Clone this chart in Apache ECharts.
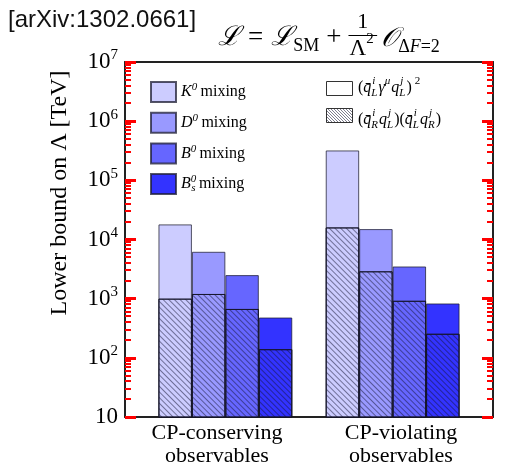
<!DOCTYPE html>
<html>
<head>
<meta charset="utf-8">
<script src="https://cdn.jsdelivr.net/npm/echarts@6/dist/echarts.min.js"></script>
<style>
  html, body { margin: 0; padding: 0; background: #fff; }
  #chart { width: 517px; height: 474px; }
</style>
</head>
<body>
<div id="chart"></div>
<script>
// Observable groups shown along the x axis
const groups = ['CP-conserving\nobservables', 'CP-violating\nobservables'];
// Neutral-meson systems, one bar each inside a group
const mesons = ['K0 mixing', 'D0 mixing', 'B0 mixing', 'Bs mixing'];
const mesonColors = ['#ccccff', '#9999ff', '#6666ff', '#3333ff'];

// Lower bound on Λ [TeV] from the (q̄L γ qL)^2 operator (full bars)
const llConserving = [18000, 6200, 2500, 480];
const llViolating = [320000, 15000, 3500, 830];
// Lower bound on Λ [TeV] from the (q̄R qL)(q̄L qR) operator (hatched bars)
const lrConserving = [1000, 1200, 670, 140];
const lrViolating = [16000, 2900, 920, 255];

// y-axis range (log scale) and its labelled decades
const yMin = 10, yMax = 1e7;
const decades = [10, 1e2, 1e3, 1e4, 1e5, 1e6, 1e7];

// 11 equal slots across the plot: empty, 4 bars, empty, 4 bars, empty
const slots = ['', 'K', 'D', 'B', 'Bs', '', 'K', 'D', 'B', 'Bs', ''];

const serif = "'Liberation Serif', 'DejaVu Serif', 'Times New Roman', serif";
const frameLine = { color: '#222', width: 2 };
const tickColor = 'red';

function slotData(cons, viol, m) {
  const arr = slots.map(() => '-');
  arr[1 + m] = cons[m];
  arr[6 + m] = viol[m];
  return arr;
}

const hatch = {
  symbol: 'rect',
  symbolSize: 1,
  dashArrayX: [1, 0],
  dashArrayY: [1, 2.2],
  rotation: Math.PI / 4,
  color: 'rgba(20, 20, 50, 0.5)'
};

const series = [];
mesons.forEach((name, m) => {
  series.push({
    name: name,
    type: 'bar',
    xAxisIndex: 0, yAxisIndex: 0,
    barWidth: '100%',
    barGap: '-100%',
    data: slotData(llConserving, llViolating, m),
    itemStyle: { color: mesonColors[m], borderColor: 'rgba(30,30,50,0.75)', borderWidth: 1 },
    z: 2
  });
});
mesons.forEach((name, m) => {
  series.push({
    name: 'hatched ' + name,
    type: 'bar',
    xAxisIndex: 0, yAxisIndex: 0,
    barWidth: '100%',
    barGap: '-100%',
    data: slotData(lrConserving, lrViolating, m),
    itemStyle: { color: mesonColors[m], borderColor: 'rgba(20,20,40,0.85)', borderWidth: 1, decal: hatch },
    z: 3
  });
});

const legendRich = {
  rm: { fontFamily: serif, fontSize: 16, color: '#000', lineHeight: 20 },
  it: { fontFamily: serif, fontSize: 16, fontStyle: 'italic', color: '#000', lineHeight: 20 },
  sup: { fontFamily: serif, fontSize: 11, fontStyle: 'italic', color: '#000', verticalAlign: 'top' },
  supz: { fontFamily: serif, fontSize: 11, fontStyle: 'italic', color: '#000', verticalAlign: 'top', width: 0.5 },
  sub: { fontFamily: serif, fontSize: 11, fontStyle: 'italic', color: '#000', verticalAlign: 'bottom' }
};
const legendText = {
  'K0 mixing': '{it|K}{sup|0} {rm|mixing}',
  'D0 mixing': '{it|D}{sup|0} {rm|mixing}',
  'B0 mixing': '{it|B}{sup|0} {rm|mixing}',
  'Bs mixing': '{it|B}{supz|0}{sub|s} {rm|mixing}'
};

// ---- small math typesetter built from plain text pieces ----
const measureCtx = document.createElement('canvas').getContext('2d');
function textWidth(t, size, italic) {
  measureCtx.font = (italic ? 'italic ' : '') + size + 'px ' + serif;
  return measureCtx.measureText(t).width;
}
function textEl(t, x, y, size, italic, align) {
  return {
    type: 'text', x: x, y: y, silent: true, z: 60,
    style: { text: t, font: (italic ? 'italic ' : '') + size + 'px ' + serif, fill: '#000', align: align || 'left', verticalAlign: 'middle' }
  };
}
// tokens: {t, k} with k in m (roman), i (italic), sup, sub, ss (stacked sup+sub), gap
function mathRun(x, yc, S, tokens, out) {
  const s = Math.round(S * 0.66);
  tokens.forEach(tok => {
    if (tok.k === 'gap') { x += tok.w; return; }
    if (tok.k === 'm' || tok.k === 'i') {
      out.push(textEl(tok.t, x, yc, S, tok.k === 'i'));
      x += textWidth(tok.t, S, tok.k === 'i');
    } else if (tok.k === 'sup') {
      out.push(textEl(tok.t, x, yc - 0.42 * S, s, tok.it));
      x += textWidth(tok.t, s, tok.it) + 1;
    } else if (tok.k === 'sub') {
      out.push(textEl(tok.t, x, yc + 0.3 * S, s, tok.it));
      x += textWidth(tok.t, s, tok.it) + 1;
    } else if (tok.k === 'ss') {
      out.push(textEl(tok.sup, x + 1, yc - 0.42 * S, s, true));
      out.push(textEl(tok.sub, x, yc + 0.3 * S, s, true));
      x += Math.max(textWidth(tok.sup, s, true) + 1, textWidth(tok.sub, s, true)) + 1;
    }
  });
  return x;
}

const texts = [];
// Effective Lagrangian in the header
(function () {
  const S = 27;
  let x = mathRun(218, 38, S, [
    { t: 'ℒ', k: 'i' }, { k: 'gap', w: 8 }, { t: '=', k: 'm' }, { k: 'gap', w: 8 },
    { t: 'ℒ', k: 'i' }, { t: 'SM', k: 'sub' }, { k: 'gap', w: 6 }, { t: '+', k: 'm' }, { k: 'gap', w: 7 }
  ], texts);
  const denomW = textWidth('Λ', 23, false) + textWidth('2', 16, false) + 2;
  const fx = x + 1;
  texts.push(textEl('1', fx + denomW / 2, 22, 22, false, 'center'));
  texts.push({ type: 'line', silent: true, z: 60, shape: { x1: fx - 1, y1: 35.5, x2: fx + denomW + 1, y2: 35.5 }, style: { stroke: '#000', lineWidth: 1 } });
  mathRun(fx, 49, 23, [{ t: 'Λ', k: 'm' }, { t: '2', k: 'sup' }], texts);
  x = fx + denomW + 5;
  mathRun(x, 39, S, [{ t: '𝒪', k: 'i' }, { t: 'Δ', k: 'sub' }, { k: 'gap', w: -1 }, { t: 'F', k: 'sub', it: true }, { k: 'gap', w: -1 }, { t: '=2', k: 'sub' }], texts);
})();
// Operator legend entries
mathRun(358, 88, 16, [
  { t: '(', k: 'm' }, { t: 'q̄', k: 'i' }, { k: 'ss', sup: 'i', sub: 'L' }, { t: 'γ', k: 'i' }, { t: 'μ', k: 'sup', it: true },
  { t: 'q', k: 'i' }, { k: 'ss', sup: 'j', sub: 'L' }, { t: ')', k: 'm' }, { k: 'gap', w: 3 }, { t: '2', k: 'sup' }
], texts);
mathRun(358, 120, 16, [
  { t: '(', k: 'm' }, { t: 'q̄', k: 'i' }, { k: 'ss', sup: 'i', sub: 'R' }, { t: 'q', k: 'i' }, { k: 'ss', sup: 'j', sub: 'L' },
  { t: ')(', k: 'm' }, { t: 'q̄', k: 'i' }, { k: 'ss', sup: 'i', sub: 'L' }, { t: 'q', k: 'i' }, { k: 'ss', sup: 'j', sub: 'R' }, { t: ')', k: 'm' }
], texts);

// hatch pattern for the operator legend box
const patCanvas = document.createElement('canvas');
patCanvas.width = 3; patCanvas.height = 3;
(function () {
  const c = patCanvas.getContext('2d');
  c.fillStyle = '#fff'; c.fillRect(0, 0, 3, 3);
  c.fillStyle = 'rgba(20,20,50,0.55)';
  c.fillRect(0, 0, 1, 1); c.fillRect(1, 1, 1, 1); c.fillRect(2, 2, 1, 1);
})();

const logAxis = {
  type: 'log', logBase: 10, min: yMin, max: yMax,
  axisLine: { show: true, lineStyle: frameLine },
  axisTick: { show: true, inside: true, length: 11, lineStyle: { color: tickColor, width: 3 } },
  splitLine: { show: false }
};

const chart = echarts.init(document.getElementById('chart'), null, { renderer: 'canvas' });
chart.setOption({
  animation: false,
  backgroundColor: '#fff',
  grid: { left: 125, right: 24, top: 62, bottom: 57 },
  xAxis: [
    {
      type: 'category', data: slots, position: 'bottom',
      axisLine: { show: true, lineStyle: frameLine },
      axisTick: { show: false }, axisLabel: { show: false }, splitLine: { show: false }
    },
    {
      type: 'category', data: groups, position: 'bottom',
      axisLine: { show: false }, axisTick: { show: false }, splitLine: { show: false },
      axisLabel: { fontFamily: serif, fontSize: 22, color: '#000', lineHeight: 23, margin: 5 }
    },
    {
      type: 'category', data: slots, position: 'top',
      axisLine: { show: true, lineStyle: frameLine },
      axisTick: { show: false }, axisLabel: { show: false }, splitLine: { show: false }
    }
  ],
  yAxis: [
    Object.assign({}, logAxis, {
      position: 'left',
      axisLabel: {
        margin: 7,
        formatter: function (v) {
          const e = Math.round(Math.log10(v));
          return e === 1 ? '{b|10}' : '{b|10}{s|' + e + '}';
        },
        rich: {
          b: { fontFamily: serif, fontSize: 23, color: '#000', lineHeight: 28 },
          s: { fontFamily: serif, fontSize: 15, color: '#000', verticalAlign: 'top' }
        }
      }
    }),
    Object.assign({}, logAxis, { position: 'right', axisLabel: { show: false } })
  ],
  legend: {
    data: mesons,
    orient: 'vertical',
    left: 150, top: 81, padding: 0,
    icon: 'rect',
    itemWidth: 25, itemHeight: 20, itemGap: 8.7,
    selectedMode: false,
    formatter: name => legendText[name],
    textStyle: { rich: legendRich }
  },
  series: series
});

// minor ticks (2..9 in each decade) on both vertical edges, placed through the y scale
const grid = chart.getModel().getComponent('grid', 0).coordinateSystem.getRect();
const tickEls = [];
for (let d = 0; d < decades.length - 1; d++) {
  for (let k = 2; k <= 9; k++) {
    const y = Math.round(chart.convertToPixel({ yAxisIndex: 0 }, k * decades[d]));
    tickEls.push({ type: 'rect', silent: true, z: 60, shape: { x: grid.x, y: y - 1, width: 6, height: 2 }, style: { fill: tickColor } });
    tickEls.push({ type: 'rect', silent: true, z: 60, shape: { x: grid.x + grid.width - 6, y: y - 1, width: 6, height: 2 }, style: { fill: tickColor } });
  }
}

chart.setOption({
  graphic: [
    { type: 'text', left: 8, top: 8, z: 60, style: { text: '[arXiv:1302.0661]', font: "24px 'Liberation Sans', Arial, sans-serif", fill: '#111' } },
    { type: 'text', x: 60, y: 193, z: 60, rotation: Math.PI / 2, style: { text: 'Lower bound on Λ [TeV]', font: '24px ' + serif, fill: '#000', align: 'center', verticalAlign: 'middle' } },
    { type: 'rect', z: 60, shape: { x: 326.5, y: 81.5, width: 26, height: 14 }, style: { fill: '#fff', stroke: '#333', lineWidth: 1 } },
    { type: 'rect', z: 60, shape: { x: 326.5, y: 108.5, width: 26, height: 14 }, style: { fill: { type: 'pattern', image: patCanvas, repeat: 'repeat' }, stroke: '#333', lineWidth: 1 } }
  ].concat(texts, tickEls)
});
</script>
</body>
</html>
